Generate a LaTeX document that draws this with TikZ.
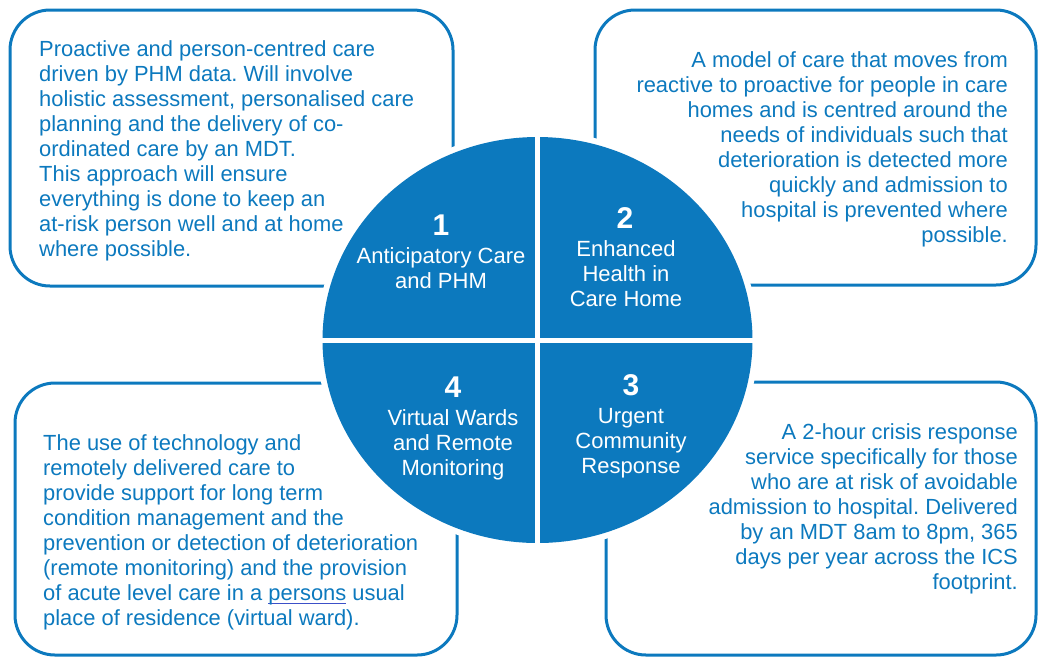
\documentclass[tikz,border=0pt]{standalone}
\usepackage{fontspec}
\setmainfont{Liberation Sans}
\usetikzlibrary{positioning}
\definecolor{nhsblue}{RGB}{12,121,190}
\definecolor{ulblue}{RGB}{60,80,200}
\newcommand{\ulword}[1]{\setbox0\hbox{#1}\rlap{\color{ulblue}\rule[-4pt]{\wd0}{1pt}}#1}
\frenchspacing

\begin{document}
\begin{tikzpicture}
[x=1pt,y=-1pt,
panel/.style={draw=nhsblue,line width=3pt,rounded corners=40pt},
boxtext/.style={text=nhsblue,font=\fontsize{21.9}{25}\selectfont,inner sep=0pt},
numtext/.style={text=white,font=\fontsize{30}{30}\selectfont\bfseries,inner sep=0pt,anchor=base},
quadtext/.style={text=white,font=\fontsize{22}{25}\selectfont,inner sep=0pt,align=center,anchor=base}]

\useasboundingbox (0,0) rectangle (1038,657);

% outer panels
\draw[panel] (10,10) rectangle (453,286);
\draw[panel] (595,10) rectangle (1036,285);
\draw[panel] (606,382) rectangle (1036,655);
\draw[panel] (15,383) rectangle (457,655);

% panel texts (anchored on last line)
\node[boxtext,align=left,anchor=base west] (txtA) at (39,256)
{Proactive and person-centred care\\driven by PHM data. Will involve\\holistic assessment, personalised care\\planning and the delivery of co-\\ordinated care by an MDT.\\This approach will ensure\\everything is done to keep an\\at-risk person well and at home\\where possible.};
\node[boxtext,align=right,anchor=base east] (txtB) at (1008,242)
{A model of care that moves from\\reactive to proactive for people in care\\homes and is centred around the\\needs of individuals such that\\deterioration is detected more\\quickly and admission to\\hospital is prevented where\\possible.};
\node[boxtext,align=right,anchor=base east] (txtC) at (1018,589)
{A 2-hour crisis response\\service specifically for those\\who are at risk of avoidable\\admission to hospital. Delivered\\by an MDT 8am to 8pm, 365\\days per year across the ICS\\footprint.};
\node[boxtext,align=left,anchor=base west] (txtD) at (43,625)
{The use of technology and\\remotely delivered care to\\provide support for long term\\condition management and the\\prevention or detection of deterioration\\(remote monitoring) and the provision\\of acute level care in a \ulword{persons} usual\\place of residence (virtual ward).};

% central disc
\fill[white] (537.5,340) ellipse [x radius=221,y radius=209];
\fill[nhsblue] (537.5,340) ellipse [x radius=215,y radius=203];
\draw[white,line width=5pt] (537.5,130) -- (537.5,550);
\draw[white,line width=5pt] (316,340) -- (759,340);

% quadrant labels
\node[numtext] (num1) at (441,235) {1};
\node[quadtext] (lbl1) at (441,288) {Anticipatory Care\\and PHM};
\node[numtext] (num2) at (625,228) {2};
\node[quadtext] (lbl2) at (626,306) {Enhanced\\Health in\\Care Home};
\node[numtext] (num3) at (631,395) {3};
\node[quadtext] (lbl3) at (631,473) {Urgent\\Community\\Response};
\node[numtext] (num4) at (453,397) {4};
\node[quadtext] (lbl4) at (453,475) {Virtual Wards\\and Remote\\Monitoring};
\end{tikzpicture}
\end{document}
